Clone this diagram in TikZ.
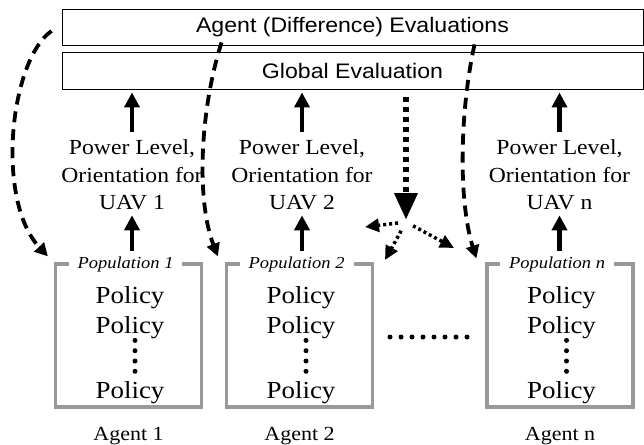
\documentclass[tikz,border=0pt]{standalone}
\usepackage{fontspec}
\setmainfont{Liberation Serif}[FakeStretch=1.1]
\newfontfamily\arialf{Liberation Sans}[FakeStretch=1.1]
\usetikzlibrary{arrows.meta,calc}
\begin{document}
\begin{tikzpicture}[x=1pt,y=-1pt,
  evalbox/.style={draw=black, line width=0.9pt, minimum width=581pt, inner sep=0pt, font=\arialf\fontsize{21}{25}\selectfont},
  popbox/.style={draw=black!40, line width=3.2pt, minimum width=146pt, minimum height=143pt, inner sep=0pt},
  poptitle/.style={fill=white, inner xsep=9pt, inner ysep=1pt, font=\itshape\fontsize{16.8}{20}\selectfont},
  policy/.style={anchor=base, inner sep=0pt, font=\fontsize{24.5}{28}\selectfont},
  uavlbl/.style={align=center, inner sep=0pt, font=\fontsize{21.5}{27.5}\selectfont},
  agentlbl/.style={anchor=base, inner sep=0pt, font=\fontsize{20}{24}\selectfont},
  uparrow/.style={line width=4.2pt, -{Triangle[length=15pt,width=15pt]}},
  dasharrow/.style={line width=3.8pt, dash pattern=on 11pt off 7pt, -{Triangle[length=13pt,width=13pt]}},
  bigdot/.style={line width=6.5pt, dash pattern=on 5pt off 5pt, -{Triangle[length=27pt,width=22pt]}},
  smalldot/.style={line width=3.5pt, dash pattern=on 3pt off 3pt, -{Triangle[length=14pt,width=13pt]}},
  dotmark/.style={circle, fill=black, inner sep=0pt, minimum size=5pt}
]
\useasboundingbox (0,0) rectangle (644,444);
\fill[white] (0,0) rectangle (644,444);

\node[evalbox, minimum height=36pt] (agentbox) at (352.5,27) {Agent (Difference) Evaluations};
\node[evalbox, minimum height=37pt] (globalbox) at (352.5,70.5) {Global Evaluation};

\foreach \i/\cx/\lx in {1/128.5/132, 2/299.5/302, n/560/559.5} {
  \node[popbox] (pop\i) at (\cx,335.5) {};
  \node[poptitle] (pt\i) at ($(pop\i.north)+(-3,2)$) {Population \i};
  \node[policy] (pa\i) at ($(pop\i.north)+(1.5,41)$) {Policy};
  \node[policy] (pb\i) at ($(pop\i.north)+(1.5,71)$) {Policy};
  \node[policy] (pc\i) at ($(pop\i.north)+(1.5,136)$) {Policy};
  \foreach \k in {0,1,2,3} {
    \node[dotmark] (vd\i\k) at ($(pop\i.north)+(6.5,78+10.3*\k)$) {};
  }
  \node[agentlbl] (ag\i) at ($(pop\i.south)+(0,32)$) {Agent \i};
  \node[uavlbl] (lab\i) at (\lx,175) {Power Level,\\Orientation for\\UAV \i};
  \draw[uparrow, shorten >=3pt] ($(lab\i.north)+(0,-8)$) -- (lab\i.north |- globalbox.south);
  \draw[uparrow, shorten >=5pt] ($(lab\i.south |- pop\i.north)+(0,-11)$) -- (lab\i.south);
}

\foreach \k in {0,...,7} {
  \node[dotmark] (hd\k) at (390+11*\k,337) {};
}

% global evaluation broadcast
\coordinate (hub) at (406,222);
\coordinate (t1) at (365,227);
\coordinate (t2) at (385,260);
\coordinate (t3) at (454,248);
\draw[bigdot, shorten <=8pt, shorten >=2pt] (globalbox.south -| hub) -- (hub);
\draw[smalldot, shorten <=8pt] (hub) -- (t1);
\draw[smalldot, shorten <=10pt] (hub) -- (t2);
\draw[smalldot, shorten <=8pt] (hub) -- (t3);

% difference evaluations
\draw[dasharrow] ($(agentbox.west)+(-10,4)$) .. controls (10,60) and (-5,200) .. ($(pop1.north west)+(-6,-6)$);
\draw[dasharrow] ($(agentbox.south west)+(160,-3)$) .. controls (200,110) and (196,200) .. ($(pop2.north west)+(-7,-6)$);
\draw[dasharrow] ($(agentbox.south west)+(413,-1)$) .. controls (460,110) and (458,200) .. ($(popn.north west)+(-9,-4)$);
\end{tikzpicture}
\end{document}
